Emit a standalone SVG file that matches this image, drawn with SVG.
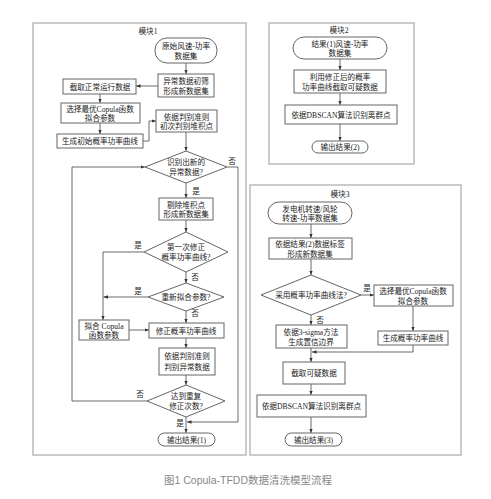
<svg xmlns="http://www.w3.org/2000/svg" width="491" height="499" viewBox="0 0 491 499">
<defs>
<style>
text{font-family:"Liberation Serif","Noto Sans CJK SC",serif;font-size:7.6px;fill:#222;text-anchor:middle}
.frame{fill:none;stroke:#bbb;stroke-width:1.5}
.box{fill:#fff;stroke:#666;stroke-width:1}
.ln{fill:none;stroke:#444;stroke-width:0.8}
.cap{font-family:"Liberation Sans","Noto Sans CJK SC",sans-serif;font-size:10.5px;fill:#888}
</style>
<marker id="ah" viewBox="0 0 8 8" refX="8" refY="4" markerWidth="4.5" markerHeight="4.5" orient="auto" markerUnits="userSpaceOnUse">
<path d="M0,0.8 L8,4 L0,7.2 Z" fill="#333"/>
</marker>
</defs>
<rect width="491" height="499" fill="#fff"/>

<g id="frames">
<rect class="frame" x="33" y="23" width="213" height="432"/>
<rect class="frame" x="269" y="23" width="145" height="141"/>
<rect class="frame" x="250" y="185" width="211" height="270"/>
<text x="148" y="34">模块1</text>
<text x="339" y="33">模块2</text>
<text x="340" y="197">模块3</text>
</g>

<g id="connectors">
<path class="ln" d="M186,63 V74" marker-end="url(#ah)"/>
<path class="ln" d="M158,86 H136" marker-end="url(#ah)"/>
<path class="ln" d="M100,94 V103" marker-end="url(#ah)"/>
<path class="ln" d="M100,123 V134" marker-end="url(#ah)"/>
<path class="ln" d="M143,141 H149 V121 H156" marker-end="url(#ah)"/>
<path class="ln" d="M186,132 V151" marker-end="url(#ah)"/>
<path class="ln" d="M227,167 H238 V422 H187" marker-end="url(#ah)"/>
<path class="ln" d="M186,183 V198" marker-end="url(#ah)"/>
<path class="ln" d="M186,220 V232" marker-end="url(#ah)"/>
<path class="ln" d="M144,252 H103 V320" marker-end="url(#ah)"/>
<path class="ln" d="M186,272 V283" marker-end="url(#ah)"/>
<path class="ln" d="M148,297 H103.5" marker-end="url(#ah)"/>
<path class="ln" d="M186,311 V323" marker-end="url(#ah)"/>
<path class="ln" d="M129,330 H149" marker-end="url(#ah)"/>
<path class="ln" d="M186,338 V348" marker-end="url(#ah)"/>
<path class="ln" d="M186,375 V385" marker-end="url(#ah)"/>
<path class="ln" d="M147,401 H72 V167 H145" marker-end="url(#ah)"/>
<path class="ln" d="M186,417 V433" marker-end="url(#ah)"/>
<text x="232" y="164">否</text>
<text x="196" y="194">是</text>
<text x="138" y="248">是</text>
<text x="195" y="280">否</text>
<text x="138" y="294">是</text>
<text x="195" y="316">否</text>
<text x="140" y="397">否</text>
<text x="180" y="426">是</text>

<path class="ln" d="M340,59 V70" marker-end="url(#ah)"/>
<path class="ln" d="M340,93 V105" marker-end="url(#ah)"/>
<path class="ln" d="M340,124 V141" marker-end="url(#ah)"/>

<path class="ln" d="M311,224 V238" marker-end="url(#ah)"/>
<path class="ln" d="M311,259 V275" marker-end="url(#ah)"/>
<path class="ln" d="M361,295 H374" marker-end="url(#ah)"/>
<path class="ln" d="M413,306 V331" marker-end="url(#ah)"/>
<path class="ln" d="M413,345 V352 H312" marker-end="url(#ah)"/>
<path class="ln" d="M311,315 V325" marker-end="url(#ah)"/>
<path class="ln" d="M311,348 V362" marker-end="url(#ah)"/>
<path class="ln" d="M311,384 V395" marker-end="url(#ah)"/>
<path class="ln" d="M311,417 V433" marker-end="url(#ah)"/>
<text x="367" y="291">是</text>
<text x="320" y="323">否</text>
</g>

<g id="t1"><rect class="box" x="155" y="38" width="62" height="25" rx="12"/><text x="186" y="49">原始风速-功率</text><text x="186" y="59">数据集</text></g>
<g id="b1"><rect class="box" x="158" y="74" width="56" height="23"/><text x="186" y="84">异常数据初筛</text><text x="186" y="94">形成新数据集</text></g>
<g id="b2"><rect class="box" x="63" y="79" width="73" height="15"/><text x="100" y="89.5">截取正常运行数据</text></g>
<g id="b3"><rect class="box" x="61" y="103" width="79" height="20"/><text x="100" y="112">选择最优Copula函数</text><text x="100" y="121">拟合参数</text></g>
<g id="b4"><rect class="box" x="57" y="134" width="86" height="14"/><text x="100" y="144">生成初始概率功率曲线</text></g>
<g id="b5"><rect class="box" x="156" y="110" width="61" height="22"/><text x="186.5" y="119.5">依据判别准则</text><text x="186.5" y="129">初次判别堆积点</text></g>
<g id="d1"><polygon class="box" points="186,151 227,167 186,183 145,167"/><text x="186" y="165">识别出新的</text><text x="186" y="175">异常数据?</text></g>
<g id="b6"><rect class="box" x="159" y="198" width="54" height="22"/><text x="186" y="207.5">剔除堆积点</text><text x="186" y="217">形成新数据集</text></g>
<g id="d2"><polygon class="box" points="186,232 228,252 186,272 144,252"/><text x="186" y="250">第一次修正</text><text x="186" y="260">概率功率曲线?</text></g>
<g id="d3"><polygon class="box" points="186,283 224,297 186,311 148,297"/><text x="186" y="300">重新拟合参数?</text></g>
<g id="b7"><rect class="box" x="79" y="320" width="50" height="20"/><text x="104" y="329">拟合 Copula</text><text x="104" y="338">函数参数</text></g>
<g id="b8"><rect class="box" x="149" y="323" width="75" height="15"/><text x="186" y="333.5">修正概率功率曲线</text></g>
<g id="b9"><rect class="box" x="159" y="348" width="56" height="27"/><text x="187" y="359">依据判别准则</text><text x="187" y="370">判别异常数据</text></g>
<g id="d4"><polygon class="box" points="186,385 225,401 186,417 147,401"/><text x="186" y="399">达到重复</text><text x="186" y="409">修正次数?</text></g>
<g id="t2"><rect class="box" x="158" y="433" width="57" height="13" rx="6.5"/><text x="186.5" y="442.5">输出结果(1)</text></g>

<g id="t3"><rect class="box" x="293" y="37" width="94" height="22" rx="11"/><text x="340" y="46.5">结果(1)风速-功率</text><text x="340" y="56">数据集</text></g>
<g id="b10"><rect class="box" x="294" y="70" width="92" height="23"/><text x="340" y="80">利用修正后的概率</text><text x="340" y="90">功率曲线截取可疑数据</text></g>
<g id="b11"><rect class="box" x="285" y="105" width="112" height="19"/><text x="341" y="117.5">依据DBSCAN算法识别离群点</text></g>
<g id="t4"><rect class="box" x="312" y="141" width="56" height="12" rx="6"/><text x="340" y="150">输出结果(2)</text></g>

<g id="t5"><rect class="box" x="268" y="202" width="84" height="22" rx="11"/><text x="310" y="211.5">发电机转速/风轮</text><text x="310" y="221">转速-功率数据集</text></g>
<g id="b12"><rect class="box" x="269" y="238" width="83" height="21"/><text x="310" y="247">依据结果(2)数据标签</text><text x="310" y="256.5">形成新数据集</text></g>
<g id="d5"><polygon class="box" points="311,275 361,295 311,315 261,295"/><text x="311" y="298">采用概率功率曲线法?</text></g>
<g id="b13"><rect class="box" x="374" y="285" width="79" height="21"/><text x="413" y="294">选择最优Copula函数</text><text x="413" y="303.5">拟合参数</text></g>
<g id="b14"><rect class="box" x="378" y="331" width="70" height="14"/><text x="413" y="341">生成概率功率曲线</text></g>
<g id="b15"><rect class="box" x="276" y="325" width="71" height="23"/><text x="311" y="334.5">依据3-sigma方法</text><text x="311" y="344.5">生成置信边界</text></g>
<g id="b16"><rect class="box" x="283" y="362" width="62" height="22"/><text x="314" y="376">截取可疑数据</text></g>
<g id="b17"><rect class="box" x="257" y="395" width="109" height="22"/><text x="311.5" y="409">依据DBSCAN算法识别离群点</text></g>
<g id="t6"><rect class="box" x="285" y="433" width="57" height="13" rx="6.5"/><text x="313.5" y="442.5">输出结果(3)</text></g>

<text class="cap" x="248" y="484">图1 Copula-TFDD数据清洗模型流程</text>
</svg>
